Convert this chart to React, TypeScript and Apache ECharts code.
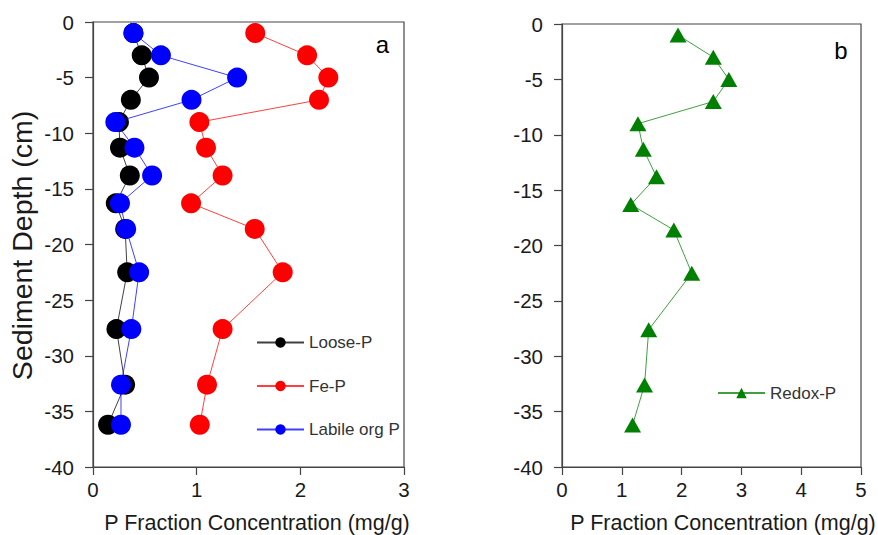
import React, { useEffect, useRef } from "react";
import * as echarts from "echarts";

const depths = [-1, -3, -5, -7, -9, -11.3, -13.8, -16.3, -18.6, -22.5, -27.6, -32.6, -36.2];
const looseP = [0.39, 0.47, 0.54, 0.365, 0.25, 0.26, 0.355, 0.22, 0.31, 0.33, 0.226, 0.31, 0.145];
const feP = [1.565, 2.065, 2.27, 2.18, 1.026, 1.09, 1.25, 0.946, 1.56, 1.83, 1.25, 1.1, 1.03];
const labileOrgP = [0.39, 0.655, 1.39, 0.95, 0.215, 0.4, 0.57, 0.26, 0.32, 0.445, 0.37, 0.27, 0.27];
const redoxP = [1.94, 2.53, 2.79, 2.53, 1.27, 1.36, 1.58, 1.15, 1.87, 2.17, 1.45, 1.38, 1.18];

const seriesNames = ["Loose-P", "Fe-P", "Labile org P", "Redox-P"];
const yTitle = "Sediment Depth (cm)";
const xTitle = "P Fraction Concentration (mg/g)";
const panelLabels = ["a", "b"];

const FONT = "Liberation Sans, Arial, sans-serif";
const AXIS_COLOR = "#444";

const pairs = (xs: number[]) => xs.map((x, i) => [x, depths[i]]);

export default function App() {
  const ref = useRef<HTMLDivElement>(null);
  useEffect(() => {
    if (!ref.current) return;
    const chart = echarts.init(ref.current, undefined, { renderer: "svg" });
    const axisCommon = {
      axisLine: { show: true, onZero: false, lineStyle: { color: AXIS_COLOR, width: 1.2 } },
      axisTick: { show: true, inside: false, length: 8, lineStyle: { color: AXIS_COLOR, width: 1.2 } },
      splitLine: { show: false },
      axisLabel: { color: "#1a1a1a", fontSize: 20.5, fontFamily: FONT },
    };
    const lineSeries = (name: string, xs: number[], color: string, idx: number, symbol: string, size: any, z: number) => ({
      name,
      type: "line",
      xAxisIndex: idx,
      yAxisIndex: idx,
      data: pairs(xs),
      symbol,
      symbolSize: size,
      lineStyle: { color, width: 1, opacity: 0.75 },
      itemStyle: { color, opacity: 1 },
      z,
    });
    chart.setOption({
      animation: false,
      backgroundColor: "#fff",
      grid: [
        { left: 93, top: 22, width: 311, height: 445, show: true, borderColor: AXIS_COLOR, borderWidth: 1.2, backgroundColor: "transparent" },
        { left: 562, top: 24, width: 299, height: 443, show: true, borderColor: AXIS_COLOR, borderWidth: 1.2, backgroundColor: "transparent" },
      ],
      xAxis: [
        { ...axisCommon, type: "value", gridIndex: 0, min: 0, max: 3, interval: 1, axisLabel: { ...axisCommon.axisLabel, margin: 12 } },
        { ...axisCommon, type: "value", gridIndex: 1, min: 0, max: 5, interval: 1, axisLabel: { ...axisCommon.axisLabel, margin: 12 } },
      ],
      yAxis: [
        { ...axisCommon, type: "value", gridIndex: 0, min: -40, max: 0, interval: 5, axisLabel: { ...axisCommon.axisLabel, margin: 19 } },
        { ...axisCommon, type: "value", gridIndex: 1, min: -40, max: 0, interval: 5, axisLabel: { ...axisCommon.axisLabel, margin: 19 } },
      ],
      legend: [
        {
          data: seriesNames.slice(0, 3),
          orient: "vertical",
          left: 256,
          top: 334,
          padding: 0,
          itemWidth: 47,
          itemHeight: 13,
          itemGap: 26.5,
          textStyle: { color: "#333", fontSize: 17, fontFamily: FONT, lineHeight: 17 },
        },
        {
          data: [seriesNames[3]],
          orient: "vertical",
          left: 717,
          top: 384.5,
          padding: 0,
          itemWidth: 47,
          itemHeight: 13,
          textStyle: { color: "#333", fontSize: 17, fontFamily: FONT, lineHeight: 17 },
        },
      ],
      series: [
        lineSeries(seriesNames[0], looseP, "#000000", 0, "circle", 20, 2),
        lineSeries(seriesNames[1], feP, "#ff0000", 0, "circle", 20, 3),
        lineSeries(seriesNames[2], labileOrgP, "#0000ff", 0, "circle", 20, 4),
        lineSeries(seriesNames[3], redoxP, "#008000", 1, "triangle", [17, 15], 2),
      ],
      graphic: [
        {
          type: "text",
          x: 22,
          y: 245.5,
          rotation: Math.PI / 2,
          style: { text: yTitle, font: `28.5px ${FONT}`, fill: "#1a1a1a", align: "center", verticalAlign: "middle" },
        },
        {
          type: "text",
          x: 257,
          y: 523,
          style: { text: xTitle, font: `21.5px ${FONT}`, fill: "#1a1a1a", align: "center", verticalAlign: "middle" },
        },
        {
          type: "text",
          x: 723,
          y: 523,
          style: { text: xTitle, font: `21.5px ${FONT}`, fill: "#1a1a1a", align: "center", verticalAlign: "middle" },
        },
        {
          type: "text",
          x: 382.5,
          y: 44,
          style: { text: panelLabels[0], font: `24px ${FONT}`, fill: "#000", align: "center", verticalAlign: "middle" },
        },
        {
          type: "text",
          x: 841,
          y: 50,
          style: { text: panelLabels[1], font: `24px ${FONT}`, fill: "#000", align: "center", verticalAlign: "middle" },
        },
      ],
    });
    return () => chart.dispose();
  }, []);
  return <div ref={ref} style={{ position: "fixed", left: 0, top: 0, width: 878, height: 535 }} />;
}
